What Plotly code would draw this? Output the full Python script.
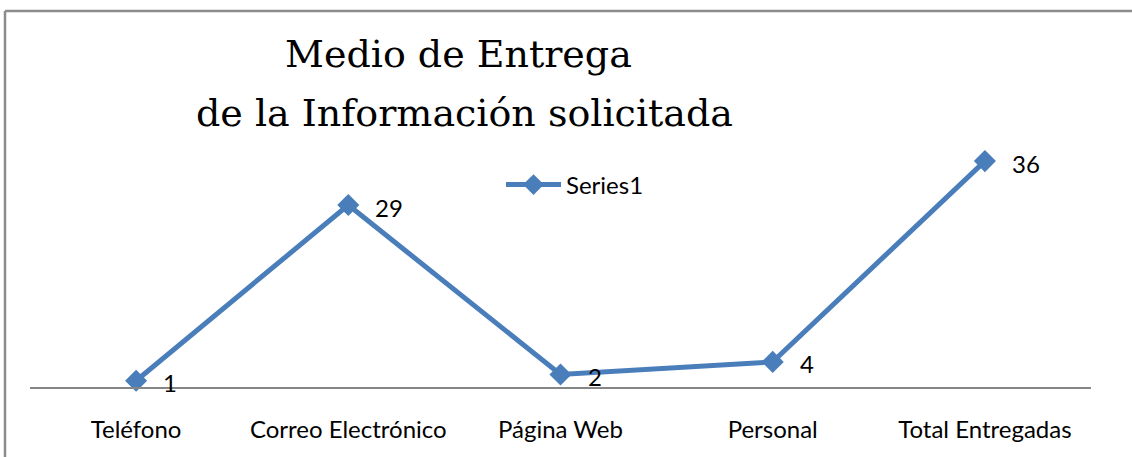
import plotly.graph_objects as go

categories = ["Teléfono", "Correo Electrónico", "Página Web", "Personal", "Total Entregadas"]
values = [1, 29, 2, 4, 36]
series_name = "Series1"
title_lines = ["Medio de Entrega", "de la Información solicitada"]

W, H = 1132, 457
ML, MR, MT, MB = 30, 41, 136, 70
plot_h = H - MT - MB
plot_w = W - ML - MR

def py(px):
    return (H - MB - px) / plot_h

def pxx(px):
    return (px - ML) / plot_w

blue = "#4A7EBB"
sans = "Lato, 'Open Sans', sans-serif"
serif = "'DejaVu Serif', serif"

fig = go.Figure()
fig.add_trace(go.Scatter(
    x=categories, y=values, mode="lines+markers", name=series_name,
    line=dict(color=blue, width=5),
    marker=dict(symbol="diamond", size=17, color=blue),
    cliponaxis=False,
))

annotations = []
for c, v in zip(categories, values):
    annotations.append(dict(x=c, y=v, xref="x", yref="y", text=str(v), showarrow=False,
                            xanchor="left", yanchor="middle", xshift=25, yshift=-2,
                            font=dict(family=sans, size=24, color="#000")))

annotations.append(dict(x=pxx(458), y=py(54), xref="paper", yref="paper", text=title_lines[0],
                        showarrow=False, xanchor="center", yanchor="middle",
                        font=dict(family=serif, size=38, color="#000")))
annotations.append(dict(x=pxx(464), y=py(113), xref="paper", yref="paper", text=title_lines[1],
                        showarrow=False, xanchor="center", yanchor="middle",
                        font=dict(family=serif, size=38, color="#000")))

shapes = [
    dict(type="line", xref="paper", yref="paper", x0=pxx(5), x1=pxx(1200), y0=py(11), y1=py(11),
         line=dict(color="#8C8C8C", width=2.5)),
    dict(type="line", xref="paper", yref="paper", x0=pxx(5), x1=pxx(5), y0=py(11), y1=py(500),
         line=dict(color="#8C8C8C", width=2.5)),
]

fig.update_layout(
    width=W, height=H,
    margin=dict(l=ML, r=MR, t=MT, b=MB, pad=0),
    paper_bgcolor="white", plot_bgcolor="white",
    showlegend=True,
    legend=dict(x=pxx(501), y=py(185), xanchor="left", yanchor="middle",
                itemwidth=55,
                font=dict(family=sans, size=24, color="#000"),
                bgcolor="rgba(0,0,0,0)", borderwidth=0),
    xaxis=dict(range=[-0.5, 4.5], showgrid=False, zeroline=False,
               showline=True, linecolor="#868686", linewidth=1.5,
               ticks="outside", ticklen=20, tickcolor="rgba(0,0,0,0)",
               tickfont=dict(family=sans, size=24, color="#000"), fixedrange=True),
    yaxis=dict(range=[0, 40], showgrid=False, zeroline=False, showline=False,
               showticklabels=False, ticks="", fixedrange=True),
    annotations=annotations,
    shapes=shapes,
)

fig.write_html("out.html", config={"displayModeBar": False},
               post_script="document.body.style.margin='0';document.body.style.overflow='hidden';")
